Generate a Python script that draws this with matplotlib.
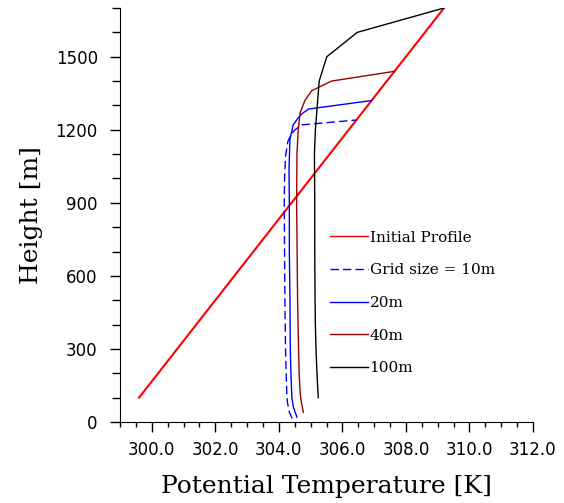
import numpy as np
import matplotlib.pyplot as plt

# Initial profile and profiles for each grid size (height in m, theta in K)
z_init = [100, 1700]
th_init = [299.6, 309.2]

z_10 = [15, 40, 80, 120, 200, 300, 500, 700, 900, 1000, 1090, 1150, 1180, 1200, 1220, 1240]
th_10 = [304.42, 304.33, 304.27, 304.25, 304.23, 304.21, 304.19, 304.18, 304.17, 304.18,
         304.21, 304.28, 304.38, 304.51, 304.72, 306.44]

z_20 = [20, 60, 100, 200, 300, 500, 700, 900, 1040, 1160, 1220, 1260, 1285, 1320]
th_20 = [304.57, 304.46, 304.41, 304.38, 304.36, 304.35, 304.33, 304.33, 304.32, 304.35,
         304.45, 304.67, 304.93, 306.92]

z_40 = [40, 80, 120, 200, 300, 500, 900, 1100, 1200, 1270, 1320, 1360, 1400, 1440]
th_40 = [304.77, 304.71, 304.67, 304.64, 304.62, 304.59, 304.56, 304.57, 304.61, 304.67,
         304.82, 305.03, 305.66, 307.64]

z_100 = [100, 200, 300, 400, 500, 700, 900, 1100, 1200, 1300, 1400, 1500, 1600, 1700]
th_100 = [305.24, 305.20, 305.17, 305.15, 305.14, 305.13, 305.13, 305.12, 305.15, 305.21,
          305.27, 305.51, 306.47, 309.20]

fig = plt.figure(figsize=(5.64, 5.03), dpi=100)
ax = fig.add_axes([120/564, 81/503, 413/564, 414/503])

ax.plot(th_init, z_init, color="red", lw=1.5, label="Initial Profile")
ax.plot(th_10, z_10, color="blue", lw=1.0, dashes=(6, 3), label="Grid size = 10m")
ax.plot(th_20, z_20, color="blue", lw=1.0, label="20m")
ax.plot(th_40, z_40, color="#990000", lw=1.0, label="40m")
ax.plot(th_100, z_100, color="black", lw=1.0, label="100m")

ax.set_xlim(299, 312)
ax.set_ylim(0, 1700)
ax.set_xticks(np.arange(300, 312.1, 2))
ax.set_xticks(np.arange(299, 312.1, 0.5), minor=True)
ax.set_xticklabels(["%.1f" % v for v in np.arange(300, 312.1, 2)])
ax.set_yticks(np.arange(0, 1501, 300))
ax.set_yticks(np.arange(0, 1701, 100), minor=True)

for s in ["top", "right"]:
    ax.spines[s].set_visible(False)

ax.tick_params(axis="x", which="major", direction="out", length=7, width=1, pad=7,
               labelsize=12)
ax.tick_params(axis="x", which="minor", direction="out", length=3.5, width=1)
ax.tick_params(axis="y", which="major", direction="out", length=7, width=1, pad=9,
               labelsize=12)
ax.tick_params(axis="y", which="minor", direction="out", length=6, width=1)
for lab in ax.get_xticklabels() + ax.get_yticklabels():
    lab.set_family("DejaVu Sans")

ax.set_xlabel("Potential Temperature [K]", family="DejaVu Serif", fontsize=18, labelpad=11)
ax.set_ylabel("Height [m]", family="DejaVu Serif", fontsize=18, labelpad=9)

leg = ax.legend(loc="upper left", bbox_to_anchor=(0.508, 0.462), frameon=False,
                prop={"family": "DejaVu Serif", "size": 11}, borderpad=0, borderaxespad=0,
                handlelength=2.5, handletextpad=0.1, labelspacing=1.22)
leg.get_lines()[0].set_linewidth(1.0)

fig.savefig("out.png", dpi=100)
